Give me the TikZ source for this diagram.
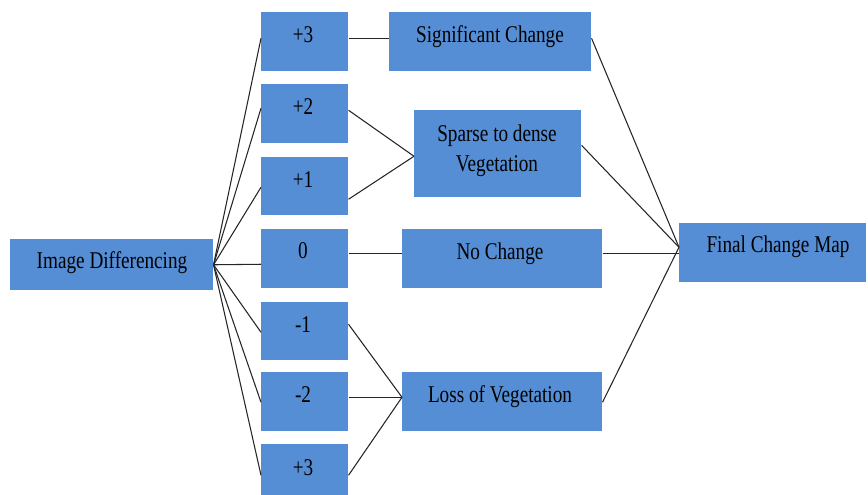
\documentclass[tikz,border=0pt]{standalone}
\usepackage{fontspec}
\setmainfont{Liberation Serif}[FakeStretch=0.8]
\usetikzlibrary{calc}
\definecolor{boxblue}{HTML}{558ED5}
\tikzset{
  box/.style={fill=boxblue, draw=none, inner sep=0pt, anchor=north west},
  lbl/.style={font=\fontsize{18}{22.5}\selectfont, inner sep=0pt, align=center, anchor=base, text=black},
  conn/.style={draw=black!85, line width=0.8pt}
}
\begin{document}
\begin{tikzpicture}[x=0.75pt,y=-0.75pt]
\useasboundingbox (0,0) rectangle (868,495);
\clip (0,0) rectangle (868,495);
% boxes
\node[box, minimum width=152.25pt, minimum height=38.25pt] (id) at (10,239) {};
\node[box, minimum width=65.25pt, minimum height=44.25pt] (v1) at (261,12) {};
\node[box, minimum width=65.25pt, minimum height=44.25pt] (v2) at (261,84) {};
\node[box, minimum width=65.25pt, minimum height=43.5pt] (v3) at (261,157) {};
\node[box, minimum width=65.25pt, minimum height=44.25pt] (v4) at (261,229) {};
\node[box, minimum width=65.25pt, minimum height=43.5pt] (v5) at (261,302) {};
\node[box, minimum width=65.25pt, minimum height=44.25pt] (v6) at (261,372) {};
\node[box, minimum width=65.25pt, minimum height=44.25pt] (v7) at (261,444) {};
\node[box, minimum width=151.5pt, minimum height=44.25pt] (sig) at (389,12) {};
\node[box, minimum width=125.25pt, minimum height=65.25pt] (sp) at (414,110) {};
\node[box, minimum width=150pt, minimum height=44.25pt] (nc) at (402,229) {};
\node[box, minimum width=150pt, minimum height=44.25pt] (lv) at (402,372) {};
\node[box, minimum width=140.25pt, minimum height=44.25pt] (fm) at (679,223) {};
% labels
\node[lbl] (idt) at (112,269) {Image Differencing};
\node[lbl] (v1t) at (303,42.5) {+3};
\node[lbl] (v2t) at (303,115) {+2};
\node[lbl] (v3t) at (303,187.5) {+1};
\node[lbl] (v4t) at (303,258.5) {0};
\node[lbl] (v5t) at (303,332.5) {-1};
\node[lbl] (v6t) at (303,402.5) {-2};
\node[lbl] (v7t) at (303,475.5) {+3};
\node[lbl] (sigt) at (490,42.5) {Significant Change};
\node[lbl, anchor=north] (spt) at (497,124.5) {Sparse to dense\\Vegetation};
\node[lbl] (nct) at (500,259.5) {No Change};
\node[lbl] (lvt) at (500,402.5) {Loss of Vegetation};
\node[lbl] (fmt) at (778,253) {Final Change Map};
% connectors from Image Differencing
\draw[conn] (id.east) -- ([yshift=2.625pt]v1.west);
\draw[conn] (id.east) -- ([yshift=4.125pt]v2.west);
\draw[conn] (id.east) -- ([yshift=-0.75pt]v3.west);
\draw[conn] (id.east) -- ([yshift=-4.125pt]v4.west);
\draw[conn] (id.east) -- ([yshift=-0.75pt]v5.west);
\draw[conn] (id.east) -- ([yshift=-0.375pt]v6.west);
\draw[conn] (id.east) -- ([yshift=-1.125pt]v7.west);
% value boxes to classes
\draw[conn] ([yshift=2.625pt]v1.east) -- ([yshift=2.625pt]sig.west);
\draw[conn] ([yshift=2.625pt]v2.east) -- ([yshift=-1.875pt]sp.west);
\draw[conn] ([yshift=-9.75pt]v3.east) -- ([yshift=-1.875pt]sp.west);
\draw[conn] ([yshift=4.125pt]v4.east) -- ([yshift=4.125pt]nc.west);
\draw[conn] ([yshift=5.25pt]v5.east) -- ([yshift=3.375pt]lv.west);
\draw[conn] ([yshift=3.375pt]v6.east) -- ([yshift=3.375pt]lv.west);
\draw[conn] ([yshift=-1.125pt]v7.east) -- ([yshift=3.375pt]lv.west);
% classes to final map
\draw[conn] ([yshift=2.625pt]sig.east) -- ([yshift=4.125pt]fm.west);
\draw[conn] ([yshift=6.375pt]sp.east) -- ([yshift=4.125pt]fm.west);
\draw[conn] ([yshift=4.125pt]nc.east) -- ([yshift=-0.375pt]fm.west);
\draw[conn] ([yshift=-0.375pt]lv.east) -- ([yshift=4.125pt]fm.west);
\end{tikzpicture}
\end{document}
